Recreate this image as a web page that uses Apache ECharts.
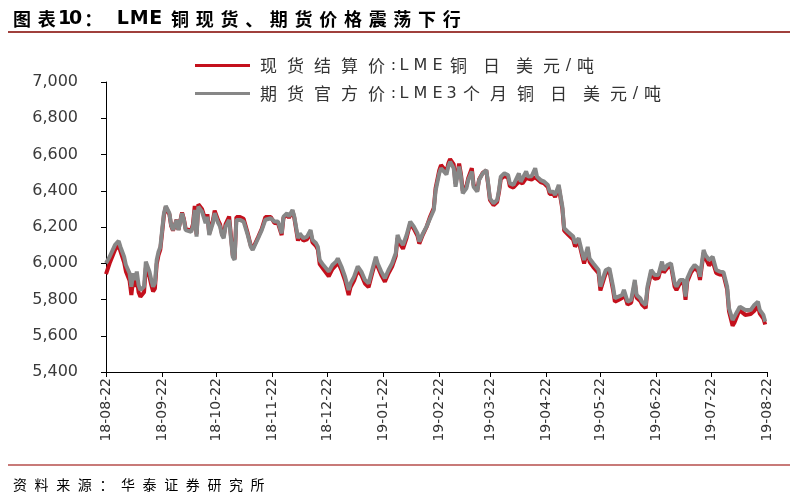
<!DOCTYPE html>
<html><head><meta charset="utf-8">
<script src="https://cdn.jsdelivr.net/npm/echarts@6/dist/echarts.min.js"></script>
<style>html,body{margin:0;padding:0;background:#fff}#c{width:800px;height:500px}</style>
</head><body><div id="c"></div>
<script>
var dates = ['2018-08-22','2018-08-24','2018-08-27','2018-08-29','2018-08-30','2018-09-01','2018-09-02','2018-09-04','2018-09-05','2018-09-06','2018-09-07','2018-09-08','2018-09-09','2018-09-10','2018-09-11','2018-09-12','2018-09-13','2018-09-15','2018-09-16','2018-09-17','2018-09-18','2018-09-19','2018-09-20','2018-09-21','2018-09-22','2018-09-23','2018-09-24','2018-09-26','2018-09-27','2018-09-28','2018-09-29','2018-09-30','2018-10-01','2018-10-03','2018-10-04','2018-10-05','2018-10-06','2018-10-08','2018-10-09','2018-10-10','2018-10-11','2018-10-12','2018-10-14','2018-10-16','2018-10-17','2018-10-18','2018-10-20','2018-10-21','2018-10-23','2018-10-24','2018-10-25','2018-10-26','2018-10-27','2018-10-29','2018-10-30','2018-10-31','2018-11-01','2018-11-02','2018-11-04','2018-11-06','2018-11-08','2018-11-10','2018-11-11','2018-11-12','2018-11-14','2018-11-16','2018-11-18','2018-11-21','2018-11-23','2018-11-25','2018-11-27','2018-11-28','2018-11-30','2018-12-01','2018-12-03','2018-12-04','2018-12-06','2018-12-07','2018-12-09','2018-12-11','2018-12-13','2018-12-14','2018-12-16','2018-12-17','2018-12-18','2018-12-20','2018-12-23','2018-12-25','2018-12-27','2018-12-28','2018-12-30','2019-01-01','2019-01-03','2019-01-04','2019-01-06','2019-01-08','2019-01-10','2019-01-12','2019-01-14','2019-01-16','2019-01-18','2019-01-19','2019-01-21','2019-01-23','2019-01-25','2019-01-27','2019-01-29','2019-01-30','2019-01-31','2019-02-02','2019-02-04','2019-02-06','2019-02-08','2019-02-10','2019-02-11','2019-02-13','2019-02-15','2019-02-17','2019-02-19','2019-02-20','2019-02-22','2019-02-23','2019-02-24','2019-02-26','2019-02-27','2019-02-28','2019-03-02','2019-03-03','2019-03-05','2019-03-06','2019-03-07','2019-03-09','2019-03-10','2019-03-12','2019-03-13','2019-03-15','2019-03-16','2019-03-18','2019-03-20','2019-03-21','2019-03-22','2019-03-24','2019-03-26','2019-03-27','2019-03-28','2019-03-30','2019-04-01','2019-04-02','2019-04-04','2019-04-05','2019-04-07','2019-04-08','2019-04-09','2019-04-11','2019-04-12','2019-04-14','2019-04-16','2019-04-17','2019-04-19','2019-04-21','2019-04-23','2019-04-24','2019-04-26','2019-04-27','2019-04-29','2019-04-30','2019-05-01','2019-05-02','2019-05-04','2019-05-05','2019-05-07','2019-05-08','2019-05-10','2019-05-12','2019-05-13','2019-05-15','2019-05-16','2019-05-18','2019-05-19','2019-05-21','2019-05-22','2019-05-24','2019-05-25','2019-05-27','2019-05-29','2019-05-30','2019-06-01','2019-06-03','2019-06-04','2019-06-06','2019-06-08','2019-06-10','2019-06-11','2019-06-13','2019-06-14','2019-06-16','2019-06-17','2019-06-19','2019-06-21','2019-06-23','2019-06-25','2019-06-26','2019-06-28','2019-06-30','2019-07-02','2019-07-03','2019-07-05','2019-07-07','2019-07-08','2019-07-09','2019-07-11','2019-07-13','2019-07-15','2019-07-16','2019-07-18','2019-07-19','2019-07-21','2019-07-23','2019-07-25','2019-07-27','2019-07-29','2019-07-31','2019-08-01','2019-08-03','2019-08-04','2019-08-06','2019-08-07','2019-08-10','2019-08-11','2019-08-13','2019-08-15','2019-08-17','2019-08-18','2019-08-20','2019-08-21'];

var futures3M = [6000,6036,6101,6123,6090,6036,5990,5945,5871,5945,5908,5954,5880,5852,5843,5871,6009,5954,5908,5871,5889,6018,6064,6090,6183,6276,6316,6276,6211,6183,6174,6239,6183,6276,6239,6183,6180,6174,6202,6294,6147,6312,6285,6221,6257,6156,6221,6276,6221,6202,6156,6138,6202,6239,6248,6036,6018,6239,6239,6230,6165,6090,6073,6082,6138,6183,6240,6248,6230,6230,6165,6257,6276,6257,6294,6257,6138,6165,6138,6147,6183,6129,6110,6090,6018,5990,5954,5990,6009,6027,5982,5926,5852,5889,5926,5982,5954,5908,5889,5963,6036,6000,5954,5917,5963,6000,6055,6156,6129,6101,6156,6230,6202,6165,6119,6165,6202,6248,6294,6400,6496,6524,6533,6490,6533,6560,6524,6422,6533,6478,6386,6413,6459,6506,6422,6395,6459,6496,6515,6441,6358,6331,6349,6404,6478,6496,6487,6441,6432,6441,6496,6450,6450,6506,6478,6480,6524,6478,6459,6450,6432,6395,6395,6377,6432,6422,6312,6193,6174,6170,6147,6110,6138,6055,6018,6090,6027,6000,6010,5963,5871,5935,5963,5972,5871,5807,5816,5825,5853,5788,5798,5908,5825,5807,5788,5770,5871,5963,5935,5935,6009,5963,5990,6000,5889,5871,5908,5908,5816,5917,5963,5990,5972,5926,6073,6046,6018,6036,5963,5954,5950,5871,5752,5687,5697,5742,5761,5742,5745,5742,5770,5788,5742,5715,5678];

var spotCash = [5940,6000,6075,6100,6065,6005,5955,5905,5825,5910,5870,5920,5840,5815,5815,5840,5975,5925,5880,5845,5860,5995,6045,6075,6170,6265,6310,6270,6205,6180,6170,6240,6185,6280,6245,6190,6185,6180,6215,6316,6160,6325,6300,6235,6270,6165,6235,6290,6235,6215,6165,6150,6215,6258,6265,6045,6025,6255,6255,6245,6175,6095,6080,6085,6145,6190,6255,6255,6222,6220,6155,6250,6270,6250,6288,6248,6125,6150,6125,6132,6168,6115,6095,6075,5995,5968,5928,5968,5990,6008,5962,5905,5825,5868,5905,5962,5935,5888,5868,5945,6018,5982,5935,5898,5945,5982,6040,6140,6112,6080,6140,6220,6190,6152,6108,6158,6200,6258,6305,6415,6512,6542,6550,6505,6550,6575,6545,6440,6550,6492,6400,6425,6470,6525,6432,6402,6462,6498,6512,6435,6350,6320,6338,6392,6465,6482,6472,6425,6418,6428,6450,6440,6440,6470,6462,6462,6475,6465,6448,6440,6420,6382,6382,6365,6420,6410,6300,6180,6160,6155,6130,6092,6122,6038,5998,6075,6008,5980,5990,5945,5850,5915,5945,5955,5852,5788,5798,5808,5838,5772,5782,5892,5810,5792,5772,5752,5855,5948,5915,5918,5995,5948,5975,5985,5870,5852,5890,5890,5798,5900,5948,5975,5955,5908,6058,6030,5988,6010,5945,5938,5935,5855,5735,5655,5672,5722,5740,5715,5718,5720,5738,5765,5722,5695,5662];

var tickLabels = ['18-08-22','18-09-22','18-10-22','18-11-22','18-12-22','19-01-22','19-02-22','19-03-22','19-04-22','19-05-22','19-06-22','19-07-22','19-08-22'];
var seriesNames = ['现货结算价:LME铜  日  美元/吨','期货官方价:LME3个月铜  日  美元/吨'];
var titleText = '图表10：  LME 铜现货、期货价格震荡下行';
var sourceText = '资料来源：华泰证券研究所';

var DAY = 86400000;
function labelToDay(s){var p=s.split('-');return Date.UTC(2000+(+p[0]),(+p[1])-1,+p[2])/DAY;}
function dateToDay(d){var p=d.split('-');return Date.UTC(+p[0],(+p[1])-1,+p[2])/DAY;}
var tickDays = tickLabels.map(labelToDay);
function pairs(vals){return dates.map(function(d,i){return [dateToDay(d),vals[i]];});}

// spaced text: every character in its own rich-text cell (typography only)
function isCJK(ch){return /[\u3000-\u303f\u4e00-\u9fff\uff00-\uffef]/.test(ch);}
function cells(str, cls){
  var out='';
  for(var i=0;i<str.length;i++){
    var ch=str[i], k;
    if(ch===' ') k='s';
    else if(isCJK(ch)) k='k';
    else if(/[A-Z]/.test(ch)) k='U'+ch;
    else if(/[0-9]/.test(ch)) k='d';
    else k='p';
    out+='{'+cls+k+'|'+ch+'}';
  }
  return out;
}
var cjkFont='"Noto Sans CJK SC", sans-serif';
var latFont='"DejaVu Sans", "Liberation Sans", sans-serif';
function cellStyles(cls, o){
  var r={};
  r[cls+'k']={width:o.k,align:'center',fontSize:o.fs,fontFamily:cjkFont,fontWeight:o.fw,color:o.c};
  'LME'.split('').forEach(function(ch){
    r[cls+'U'+ch]={width:o.uw[ch],align:'center',fontSize:o.fsl,fontFamily:latFont,fontWeight:o.fwl,color:o.c};
  });
  r[cls+'d']={width:o.d,align:'center',fontSize:o.fsl,fontFamily:latFont,fontWeight:o.fwl,color:o.c};
  r[cls+'p']={width:o.p,align:'center',fontSize:o.fsp||o.fsl,fontFamily:o.p>20?cjkFont:latFont,fontWeight:o.fw,color:o.c};
  r[cls+'s']={width:o.s,align:'center',fontSize:o.fsl,fontFamily:latFont,color:o.c};
  return r;
}
var legendRich=cellStyles('g',{k:27,uw:{L:14,M:19,E:15},d:13,p:7,s:3,fs:17,fsl:16,fw:'normal',fwl:'normal',c:'#333'});
var titleRich=cellStyles('t',{k:24.7,uw:{L:14,M:19,E:14},d:11,p:24.7,s:5,fs:18,fsl:19,fsp:18,fw:'bold',fwl:'bold',c:'#1a1a1a'});
var sourceRich=cellStyles('r',{k:21.6,uw:{L:10,M:10,E:10},d:10,p:10,s:5,fs:14,fsl:14,fw:'normal',fwl:'normal',c:'#9a9a9a'});

var chart = echarts.init(document.getElementById('c'));
chart.setOption({
  animation:false,
  backgroundColor:'#fff',
  grid:{left:106,right:33,top:82,bottom:128,containLabel:false},
  legend:{
    orient:'vertical',left:190,top:52,itemGap:11,itemWidth:55,itemHeight:3,icon:'rect',
    textStyle:{fontSize:16,color:'#333',rich:legendRich},
    formatter:function(n){return cells(n,'g');},
    data:seriesNames
  },
  xAxis:{
    type:'value',min:tickDays[0],max:tickDays[tickDays.length-1],
    axisLine:{show:true,onZero:false,lineStyle:{color:'#000',width:1}},
    axisTick:{show:true,length:5,lineStyle:{color:'#000'},customValues:tickDays},
    splitLine:{show:false},
    axisLabel:{
      customValues:tickDays,rotate:90,margin:6,fontSize:14,color:'#333',fontFamily:latFont,
      formatter:function(v){var best=0;for(var k=1;k<tickDays.length;k++){if(Math.abs(tickDays[k]-v)<Math.abs(tickDays[best]-v))best=k;}return tickLabels[best];}
    }
  },
  yAxis:{
    type:'value',min:5400,max:7000,interval:200,
    axisLine:{show:true,lineStyle:{color:'#000',width:1}},
    axisTick:{show:true,inside:false,length:5,lineStyle:{color:'#000'}},
    splitLine:{show:false},
    axisLabel:{fontSize:16,color:'#3a3a3a',fontFamily:latFont,margin:28,
      formatter:function(v){return String(v).replace(/\B(?=(\d{3})+(?!\d))/g,',');}}
  },
  series:[
    {name:seriesNames[0],type:'line',data:pairs(spotCash),showSymbol:false,symbol:'none',
     lineStyle:{color:'#C4101C',width:4},itemStyle:{color:'#C4101C'},z:2},
    {name:seriesNames[1],type:'line',data:pairs(futures3M),showSymbol:false,symbol:'none',
     lineStyle:{color:'#878787',width:4},itemStyle:{color:'#878787'},z:3}
  ],
  graphic:[
    {type:'text',x:9.6,y:19.5,style:{text:cells(titleText,'t'),rich:titleRich,verticalAlign:'middle'}},
    {type:'rect',shape:{x:8,y:31,width:782,height:2},style:{fill:'#A0403C'}},
    {type:'rect',shape:{x:8,y:464,width:782,height:2},style:{fill:'#C87A78'}},
    {type:'text',x:9.2,y:485,style:{text:cells(sourceText,'r'),rich:sourceRich,verticalAlign:'middle'}}
  ]
});
</script></body></html>
